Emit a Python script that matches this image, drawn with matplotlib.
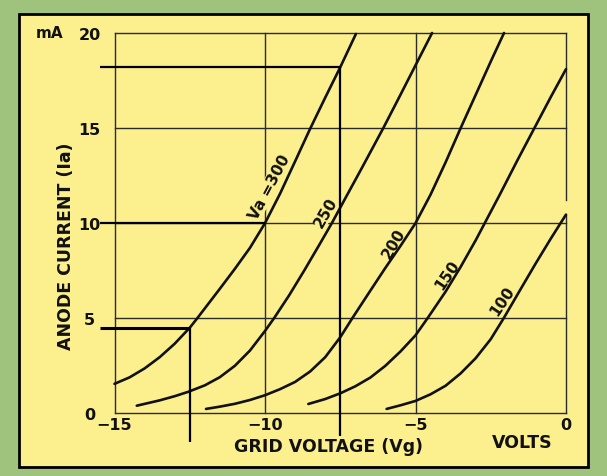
import matplotlib
matplotlib.use("Agg")
import matplotlib.pyplot as plt
from matplotlib.patches import Rectangle

# ---------------- data ----------------
va_levels = [300, 250, 200, 150, 100]

vg_300 = [-15.0, -14.5, -14.0, -13.5, -13.0, -12.5, -12.25, -11.5, -11.0, -10.5, -10.0,
          -9.5, -9.0, -8.52, -8.0, -7.5, -6.98]
ia_300 = [1.55, 1.89, 2.36, 2.95, 3.66, 4.5, 5.0, 6.55, 7.6, 8.7, 10.0,
          11.55, 13.25, 14.9, 16.6, 18.2, 19.95]

vg_250 = [-14.26, -13.5, -13.0, -12.55, -12.0, -11.5, -11.0, -10.5, -10.0, -9.7, -9.2,
          -8.7, -8.2, -7.78, -7.3, -6.8, -6.07, -5.5, -5.0, -4.45]
ia_250 = [0.4, 0.68, 0.9, 1.13, 1.47, 1.9, 2.5, 3.3, 4.33, 5.0, 6.2,
          7.5, 8.85, 10.0, 11.4, 12.85, 15.0, 16.75, 18.3, 20.0]

vg_200 = [-11.96, -11.5, -11.0, -10.5, -10.0, -9.5, -9.0, -8.5, -8.0, -7.5, -7.1,
          -6.5, -6.0, -5.5, -5.0, -4.5, -4.0, -3.5, -3.0, -2.5, -2.06]
ia_200 = [0.23, 0.35, 0.5, 0.7, 0.95, 1.27, 1.65, 2.2, 2.95, 4.0, 5.0,
          6.45, 7.65, 8.8, 10.0, 11.5, 13.2, 15.0, 16.75, 18.5, 20.0]

vg_150 = [-8.56, -8.0, -7.5, -7.0, -6.5, -6.0, -5.5, -5.0, -4.6, -4.0, -3.5,
          -3.0, -2.7, -2.2, -1.6, -1.05, -0.5, 0.0]
ia_150 = [0.49, 0.75, 1.05, 1.42, 1.88, 2.5, 3.25, 4.1, 5.0, 6.4, 7.7,
          9.1, 10.0, 11.5, 13.35, 15.0, 16.65, 18.1]

vg_100 = [-5.96, -5.5, -5.0, -4.5, -4.0, -3.5, -3.0, -2.5, -2.07, -1.5, -1.0, -0.5, 0.0]
ia_100 = [0.23, 0.42, 0.65, 1.0, 1.45, 2.1, 2.9, 3.9, 5.0, 6.55, 7.9, 9.2, 10.45]

curve_labels = ["Va =300", "250", "200", "150", "100"]

x_ticks = [-15, -10, -5, 0]
x_tick_labels = ["\u221215", "\u221210", "\u22125", "0"]
y_ticks = [0, 5, 10, 15, 20]
y_tick_labels = ["0", "5", "10", "15", "20"]

# construction lines (operating points)
op_vg = [-12.5, -10.0, -7.5]
op_ia = [4.5, 10.0, 18.2]

# ---------------- layout / style ----------------
W, H = 607, 477
GREEN = "#9fc27d"
YELLOW = "#fcef8e"
INK = "#111111"
GRID = "#2b2b2b"

def fx(px):
    return px / W

def fy(py):
    return 1 - py / H

fig = plt.figure(figsize=(W / 100, H / 100), dpi=100, facecolor=GREEN)
fig.patches.append(Rectangle((fx(19), fy(468)), (588 - 19) / W, (468 - 15) / H,
                             transform=fig.transFigure, facecolor=YELLOW,
                             edgecolor="black", linewidth=2.0, zorder=-10))

ax = fig.add_axes([fx(114.5), fy(414.3), (566 - 114.5) / W, (414.3 - 34) / H])
ax.set_zorder(5)
ax.set_facecolor("none")
ax.set_xlim(-15, 0)
ax.set_ylim(0, 20)
for s in ax.spines.values():
    s.set_visible(False)

# grid lines
for yv in y_ticks:
    ax.plot([-15, 0], [yv, yv], color=GRID, lw=1.0, zorder=1, clip_on=False)
for xv in x_ticks[:-1]:
    ax.plot([xv, xv], [0, 20], color=GRID, lw=1.0, zorder=1, clip_on=False)
# right edge with small break above the Va=100 curve end
ax.plot([0, 0], [0, ia_100[-1]], color=GRID, lw=1.0, zorder=1, clip_on=False)
ax.plot([0, 0], [11.2, 20], color=GRID, lw=1.0, zorder=1, clip_on=False)

# curves
series = [(vg_300, ia_300), (vg_250, ia_250), (vg_200, ia_200), (vg_150, ia_150), (vg_100, ia_100)]
for vg, ia in series:
    ax.plot(vg, ia, color=INK, lw=1.9, solid_capstyle="round", solid_joinstyle="round",
            zorder=3, clip_on=False)

# curve labels
label_pos = [(-9.85, 11.95, 62), (-7.98, 10.6, 60), (-5.71, 8.95, 60), (-3.94, 7.3, 56), (-2.11, 5.95, 56)]
for text, (lx, ly, rot) in zip(curve_labels, label_pos):
    ax.text(lx, ly, text, rotation=rot, rotation_mode="anchor", ha="center", va="center",
            fontsize=11, fontweight="bold", color=INK, zorder=2,
            bbox=dict(facecolor=YELLOW, edgecolor="none", pad=0.3))

# construction lines
left_x = -15.48
bottoms = [-1.49, None, -1.17]
widths = [2.2, 1.6, 1.6]
for vg, ia, bot, lw in zip(op_vg, op_ia, bottoms, widths):
    ax.plot([left_x, vg], [ia, ia], color="black", lw=lw, zorder=4, clip_on=False,
            solid_capstyle="butt")
    if bot is not None:
        ax.plot([vg, vg], [ia, bot], color="black", lw=1.6, zorder=4, clip_on=False,
                solid_capstyle="butt")

# ticks
ax.set_xticks(x_ticks)
ax.set_xticklabels(x_tick_labels)
ax.set_yticks(y_ticks)
ax.set_yticklabels(y_tick_labels)
ax.tick_params(length=0, labelsize=11.5, colors=INK)
ax.tick_params(axis="x", pad=3)
ax.tick_params(axis="y", pad=18)
for t in ax.get_yticklabels():
    t.set_horizontalalignment("center")
    t.set_fontweight("bold")
for t in ax.get_xticklabels():
    t.set_fontweight("bold")

# axis titles
fig.text(fx(66), fy(246), "ANODE CURRENT (Ia)", rotation=90, ha="center", va="center",
         fontsize=12.5, fontweight="bold", color=INK)
fig.text(fx(328), fy(447), "GRID VOLTAGE (Vg)", ha="center", va="center",
         fontsize=12.5, fontweight="bold", color=INK)
fig.text(fx(522), fy(443), "VOLTS", ha="center", va="center",
         fontsize=12.5, fontweight="bold", color=INK)
fig.text(fx(50), fy(34), "mA", ha="center", va="center",
         fontsize=11, fontweight="bold", color=INK)

fig.savefig("out.png", dpi=100, facecolor=GREEN)
